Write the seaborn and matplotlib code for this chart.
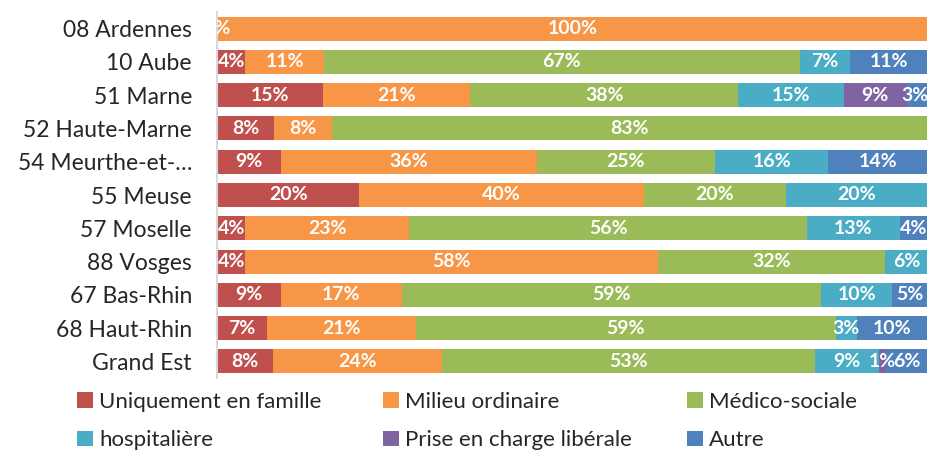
import numpy as np
import pandas as pd
import matplotlib
matplotlib.use("Agg")
import matplotlib.pyplot as plt
import seaborn as sns
from matplotlib.patches import Patch

# Departments (top to bottom)
departements = ["08 Ardennes", "10 Aube", "51 Marne", "52 Haute-Marne",
                "54 Meurthe-et-…", "55 Meuse", "57 Moselle", "88 Vosges",
                "67 Bas-Rhin", "68 Haut-Rhin", "Grand Est"]

series_names = ["Uniquement en famille", "Milieu ordinaire", "Médico-sociale",
                "hospitalière", "Prise en charge libérale", "Autre"]

# Percentages (NaN = no segment)
nan = np.nan
famille   = [0,   4,  15, 8,   9,   20,  4,   4,   9,   7,   8]
ordinaire = [100, 11, 21, 8,   36,  40,  23,  58,  17,  21,  24]
medico    = [nan, 67, 38, 83,  25,  20,  56,  32,  59,  59,  53]
hospital  = [nan, 7,  15, nan, 16,  20,  13,  6,   10,  3,   9]
liberale  = [nan, nan, 9, nan, nan, nan, nan, nan, nan, nan, 1]
autre     = [nan, 11, 3,  nan, 14,  nan, 4,   nan, 5,   10,  6]

colors = ["#C0504D", "#F79646", "#9BBB59", "#4BACC6", "#8064A2", "#4F81BD"]

df = pd.DataFrame({"dep": departements, series_names[0]: famille,
                   series_names[1]: ordinaire, series_names[2]: medico,
                   series_names[3]: hospital, series_names[4]: liberale,
                   series_names[5]: autre})

vals = df[series_names].fillna(0)
# 100% stacked: normalise each row
shares = vals.div(vals.sum(axis=1), axis=0) * 100
cum = shares.cumsum(axis=1)

sns.set_style("white")
plt.rcParams["font.family"] = ["Lato", "DejaVu Sans"]

fig = plt.figure(figsize=(9.28, 4.51), dpi=100)
ax = fig.add_axes([217 / 928, 1 - 378 / 451, 1 - 217 / 928, 366 / 451])

# draw from the last cumulative series to the first so each overlays the next
for name, col in reversed(list(zip(series_names, colors))):
    sns.barplot(x=cum[name].values, y=df["dep"], color=col, orient="h",
                width=0.72, linewidth=0, saturation=1, ax=ax)

# data labels (the 0% one is cut by the axis, as in the original)
for i in range(len(df)):
    for name in series_names:
        v = df.loc[i, name]
        if pd.isna(v):
            continue
        right = cum.loc[i, name]
        left = right - shares.loc[i, name]
        xc = min((left + right) / 2, 98.2)
        ax.text(xc, i, f"{int(v)}%", ha="center", va="center",
                color="white", fontsize=14, fontweight="bold", clip_on=(v == 0))

ax.set_xlim(0, 100)
ax.set_xlabel("")
ax.set_ylabel("")
ax.set_xticks([])
ax.tick_params(axis="y", length=0, pad=18, labelsize=16.5)
for s in ["top", "right", "bottom"]:
    ax.spines[s].set_visible(False)
ax.spines["left"].set_color("#D9D9D9")
ax.spines["left"].set_linewidth(1.5)

# legend: three columns of two entries, row-major like the original
handles = [Patch(facecolor=c, edgecolor="none") for c in colors]
col_x = [77, 383, 687]
for j in range(3):
    idx = [j, j + 3]
    leg = fig.legend([handles[k] for k in idx], [series_names[k] for k in idx],
                     loc="center left", bbox_to_anchor=(col_x[j] / 928, 1 - 421 / 451),
                     frameon=False, fontsize=16, handlelength=0.7,
                     handleheight=0.7, handletextpad=0.3, labelspacing=0.85,
                     borderaxespad=0, borderpad=0)

fig.savefig("out.png", dpi=100)
